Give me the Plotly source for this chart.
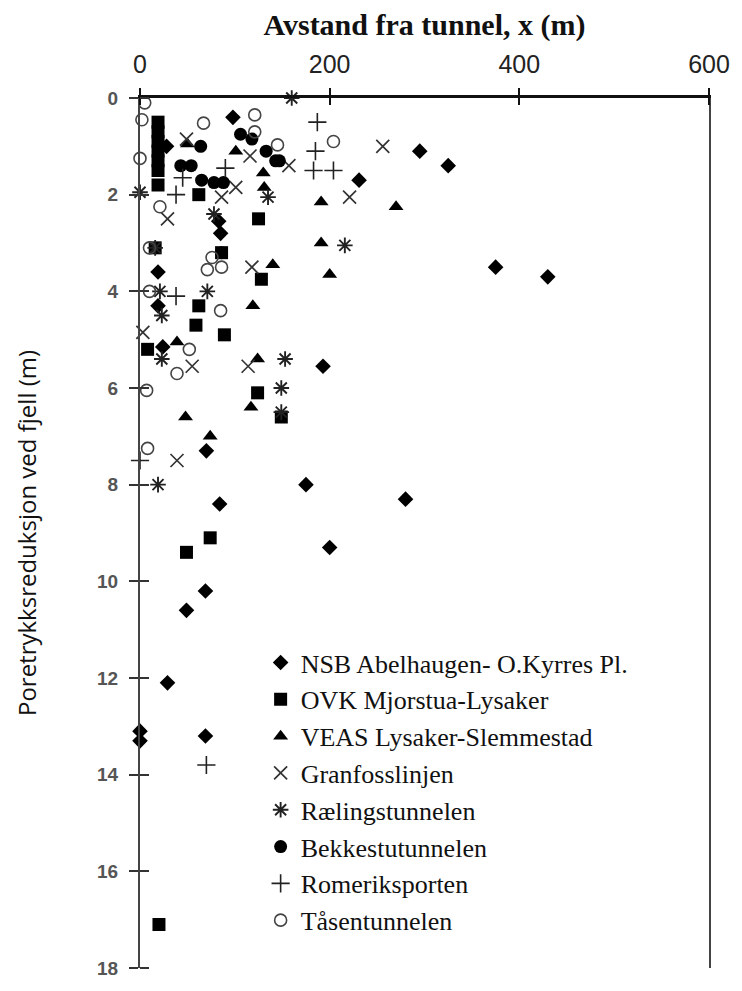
import plotly.graph_objects as go

# Distance from tunnel (x, m) and pore pressure reduction at bedrock (m), per project
nsb_x = [98, 28, 295, 325, 231, 83, 85, 19, 375, 430, 19, 24, 193, 70, 175, 84, 280, 200, 69, 49, 29, 69, 0, 0]
nsb_y = [0.4, 1.0, 1.1, 1.4, 1.7, 2.55, 2.8, 3.6, 3.5, 3.7, 4.3, 5.15, 5.55, 7.3, 8.0, 8.4, 8.3, 9.3, 10.2, 10.6, 12.1, 13.2, 13.1, 13.3]

ovk_x = [19, 19, 19, 19, 19, 19, 19, 62, 125, 16, 86, 128, 62, 59, 89, 8, 124, 149, 74, 49, 20]
ovk_y = [0.5, 0.7, 0.9, 1.1, 1.3, 1.5, 1.8, 2.0, 2.5, 3.1, 3.2, 3.75, 4.3, 4.7, 4.9, 5.2, 6.1, 6.6, 9.1, 9.4, 17.1]

veas_x = [50, 101, 130, 131, 191, 270, 191, 140, 200, 119, 39, 124, 117, 48, 74]
veas_y = [0.95, 1.1, 1.55, 1.85, 2.15, 2.25, 3.0, 3.45, 3.65, 4.3, 5.05, 5.4, 6.4, 6.6, 7.0]

gran_x = [49, 116, 157, 256, 221, 101, 86, 29, 118, 3, 55, 114, 39]
gran_y = [0.85, 1.2, 1.4, 1.0, 2.05, 1.85, 2.05, 2.5, 3.5, 4.85, 5.55, 5.55, 7.5]

rael_x = [160, 0, 135, 78, 16, 216, 21, 71, 23, 23, 153, 149, 149, 19]
rael_y = [0.0, 1.95, 2.05, 2.4, 3.1, 3.05, 4.0, 4.0, 4.5, 5.4, 5.4, 6.0, 6.5, 8.0]

bekk_x = [106, 118, 64, 133, 143, 43, 54, 65, 78, 88, 86, 147]
bekk_y = [0.75, 0.85, 1.0, 1.1, 1.3, 1.4, 1.4, 1.7, 1.75, 1.75, 3.2, 1.3]

rom_x = [187, 185, 183, 204, 90, 45, 38, 38, 0, 70]
rom_y = [0.5, 1.1, 1.5, 1.5, 1.45, 1.65, 2.0, 4.1, 7.5, 13.8]

taa_x = [5, 2, 67, 121, 121, 145, 204, 0, 21, 10, 76, 71, 86, 10, 85, 52, 39, 7, 8]
taa_y = [0.1, 0.45, 0.52, 0.35, 0.7, 0.97, 0.9, 1.25, 2.25, 3.1, 3.3, 3.55, 3.5, 4.0, 4.4, 5.2, 5.7, 6.05, 7.25]

x_ticks = [0, 200, 400, 600]
y_ticks = [0, 2, 4, 6, 8, 10, 12, 14, 16, 18]

series = [
    ("NSB Abelhaugen- O.Kyrres Pl.", nsb_x, nsb_y, dict(symbol="diamond", size=12, color="black")),
    ("OVK Mjorstua-Lysaker", ovk_x, ovk_y, dict(symbol="square", size=13, color="black")),
    ("VEAS Lysaker-Slemmestad", veas_x, veas_y, dict(symbol="triangle-up", size=13, color="black")),
    ("Granfosslinjen", gran_x, gran_y, dict(symbol="x-thin-open", size=13, color="#333", line=dict(width=1.7, color="#333"))),
    ("Rælingstunnelen", rael_x, rael_y, dict(symbol="asterisk-open", size=13, color="#222", line=dict(width=1.9, color="#222"))),
    ("Bekkestutunnelen", bekk_x, bekk_y, dict(symbol="circle", size=13, color="black")),
    ("Romeriksporten", rom_x, rom_y, dict(symbol="cross-thin-open", size=13, color="#222", line=dict(width=1.6, color="#222"))),
    ("Tåsentunnelen", taa_x, taa_y, dict(symbol="circle-open", size=12, color="#444", line=dict(width=1.6, color="#444"))),
]

fig = go.Figure()
for name, xs, ys, marker in series:
    fig.add_trace(go.Scatter(x=xs, y=ys, mode="markers", name=name, marker=marker, cliponaxis=False))

fig.update_layout(
    width=742, height=991,
    margin=dict(l=140, r=23, t=98, b=13),
    paper_bgcolor="white", plot_bgcolor="white",
    showlegend=True,
    legend=dict(
        x=0.212, y=0.378, xanchor="left", yanchor="top",
        bgcolor="rgba(0,0,0,0)",
        font=dict(family="Liberation Serif, Times New Roman, serif", size=26, color="#111"),
        tracegroupgap=0,
    ),
    xaxis=dict(
        side="top", range=[0, 600], tickvals=x_ticks,
        showgrid=False, zeroline=False,
        showline=True, linecolor="#111", linewidth=2.5,
        ticks="outside", ticklen=7, tickwidth=1.5, tickcolor="#111",
        minor=dict(tickvals=x_ticks, ticks="inside", ticklen=7, tickwidth=1.5, tickcolor="#111", showgrid=False),
        ticklabelstandoff=5,
        tickfont=dict(family="Liberation Sans Narrow, Liberation Sans, Arial, sans-serif", size=25, color="#222"),
        title=dict(text="<b>Avstand fra tunnel, x (m)</b>", standoff=6,
                   font=dict(family="Liberation Serif, Times New Roman, serif", size=30, color="#111")),
    ),
    yaxis=dict(
        range=[18, 0], tickvals=y_ticks,
        showgrid=False, zeroline=False,
        showline=True, linecolor="#444", linewidth=2, mirror=True,
        ticks="outside", ticklen=9, tickwidth=1.5, tickcolor="#333",
        minor=dict(tickvals=y_ticks, ticks="inside", ticklen=9, tickwidth=1.5, tickcolor="#333", showgrid=False),
        ticklabelstandoff=7, ticklabeloverflow="allow",
        tickfont=dict(family="Liberation Sans, Arial, sans-serif", size=19, color="#555", weight="bold"),
        title=dict(text="Poretrykksreduksjon ved fjell (m)", standoff=54,
                   font=dict(family="Open Sans, sans-serif", size=24, color="#111")),
    ),
)

fig.write_html("out.html")
